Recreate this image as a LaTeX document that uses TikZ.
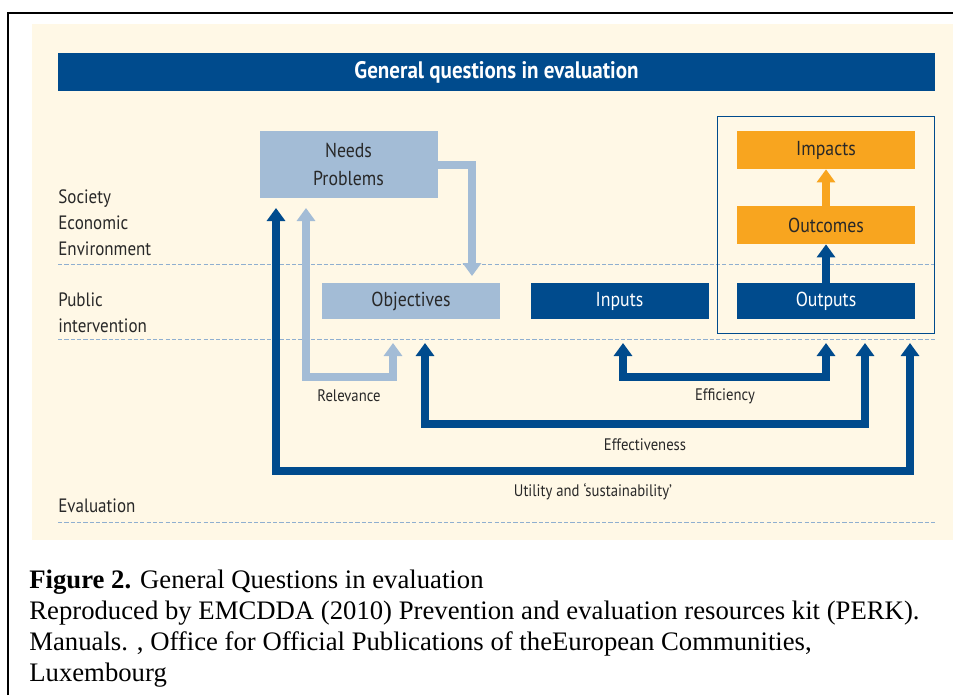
\documentclass[tikz,border=0pt]{standalone}
\usepackage{fontspec}
\setmainfont{Liberation Serif}
\newfontfamily\futfont{PT Sans}[FakeStretch=0.88]
\usetikzlibrary{arrows.meta, positioning, fit, calc}
\definecolor{DB}{RGB}{0,75,141}
\definecolor{LB}{RGB}{163,188,214}
\definecolor{OR}{RGB}{248,165,31}
\definecolor{CR}{RGB}{255,248,230}
\definecolor{DL}{RGB}{143,175,208}
\definecolor{TX}{RGB}{40,40,40}

\begin{document}
\begin{tikzpicture}[
  box/.style={fill=#1, minimum width=3.56cm, minimum height=0.72cm,
              inner sep=0pt, align=center, text=TX,
              font=\futfont\fontsize{11.5}{15.9}\selectfont},
  lvl/.style={anchor=west, inner sep=0pt, align=left, text=TX,
              font=\futfont\fontsize{11}{14.8}\selectfont},
  qlbl/.style={font=\futfont\fontsize{9.5}{11}\selectfont, text=TX},
  arr/.style={-{Triangle[length=0.26cm,width=0.36cm]}, line width=0.16cm, draw=#1},
  barr/.style={{Triangle[length=0.26cm,width=0.36cm]}-{Triangle[length=0.26cm,width=0.36cm]},
               line width=0.16cm, draw=#1},
  laneline/.style={draw=DL, dash pattern=on 2.4pt off 1.2pt, line width=0.5pt}
]
\useasboundingbox (0,0) rectangle (19.06,-13.9);
\draw[line width=1pt] (0.16,-13.9) |- (19.06,-0.26);
\fill[CR] (0.64,-0.48) rectangle (19.06,-10.8);

\node[fill=DB, minimum width=17.54cm, minimum height=0.76cm, text=white,
      font=\futfont\bfseries\fontsize{13.6}{16}\selectfont]
  (title) at (9.93,-1.44) {General questions in evaluation};

% levels
\foreach \y in {-5.28,-6.78,-10.44} \draw[laneline] (1.16,\y) -- (18.7,\y);
\node[lvl] (soc) at (1.16,-4.46) {Society\\Economic\\Environment};
\node[lvl] (pub) at (1.16,-6.25) {Public\\intervention};
\node[lvl] (eva) at (1.16,-10.12) {Evaluation};

\node[box=LB, minimum height=1.34cm] (needs) at (6.97,-3.29) {Needs\\Problems};
\node[box=LB] (obj)  at (8.22,-6.02)  {Objectives};
\node[box=DB, text=white] (inp)  at (12.39,-6.02) {Inputs};
\node[box=DB, text=white] (outp) at (16.52,-6.02) {Outputs};
\node[box=OR, minimum height=0.76cm] (outc) at (16.52,-4.5) {Outcomes};
\node[box=OR, minimum height=0.76cm] (imp)  at (16.52,-3.0) {Impacts};
\node[draw=DB, line width=0.6pt, fit=(imp)(outp),
      inner xsep=0.39cm, inner ysep=0.29cm] (res) {};

\draw[arr=DB] (outp.north) -- (outc.south);
\draw[arr=OR] (outc.north) -- (imp.south);

\coordinate (objIn) at (9.44,-5.52);
\draw[arr=LB] (needs.east) -| (objIn);

% evaluation loops
\coordinate (relA) at (7.86,-6.86);  \coordinate (relB) at (6.12,-4.16);
\coordinate (utA)  at (5.52,-4.16);  \coordinate (utB)  at (18.2,-6.86);
\coordinate (efA)  at (8.5,-6.86);   \coordinate (efB)  at (17.3,-6.86);
\coordinate (eyA)  at (12.46,-6.86); \coordinate (eyB)  at (16.52,-6.86);

\draw[barr=DB] (utA) -- ++(0,-5.25) -| (utB);
\draw[barr=DB] (efA) -- ++(0,-1.62) -| (efB);
\draw[barr=DB] (eyA) -- ++(0,-0.68) -| (eyB);
\draw[barr=LB] (relA) -- ++(0,-0.67) -| (relB);

\node[qlbl] (relL) at (6.98,-7.92)  {Relevance};
\node[qlbl] (eyL)  at (14.5,-7.92)  {Efficiency};
\node[qlbl] (efL)  at (12.9,-8.9)   {Effectiveness};
\node[qlbl] (utL)  at (11.86,-9.84) {Utility and ‘sustainability’};

\node[anchor=base west, align=left, inner sep=0pt,
      font=\fontsize{15.2}{17.6}\selectfont] (cap) at (0.58,-13.62)
  {\textbf{Figure 2.} General Questions in evaluation\\
   Reproduced by EMCDDA (2010) Prevention and evaluation resources kit (PERK).\\
   Manuals. , Office for Official Publications of theEuropean Communities,\\
   Luxembourg};
\end{tikzpicture}
\end{document}
